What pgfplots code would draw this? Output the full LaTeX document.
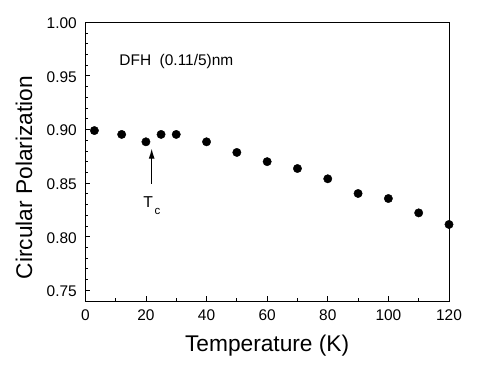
\documentclass[border=0pt]{standalone}
\usepackage{pgfplots}
\pgfplotsset{compat=1.18}
\usepackage{fontspec}
\setmainfont{Liberation Sans}
\usetikzlibrary{arrows.meta}
\begin{document}
\begin{tikzpicture}
\begin{axis}[
  scale only axis,
  width=363.7bp, height=278.7bp,
  xmin=0, xmax=120, ymin=0.74, ymax=1.00,
  xtick={0,20,...,120},
  minor x tick num=1,
  ytick={0.75,0.80,...,1.00},
  minor y tick num=4,
  tick align=inside,
  xtick pos=bottom, ytick pos=left,
  major tick length=5bp, minor tick length=3bp,
  axis line style={line width=0.8bp},
  every tick/.style={black, line width=0.8bp},
  /pgf/number format/assume math mode=true,
  /pgf/number format/.cd, fixed, precision=2,
  /pgfplots/.cd,
  yticklabel style={/pgf/number format/fixed zerofill, /pgf/number format/precision=2, yshift=-1bp, xshift=-5bp},
  xticklabel style={yshift=-5bp},
  ticklabel style={font=\fontsize{15.5}{18}\selectfont},
  xlabel={Temperature (K)},
  ylabel={Circular Polarization},
  label style={font=\fontsize{22.8}{26}\selectfont},
  xlabel style={at={(axis description cs:0.5,-0.182)}, anchor=base},
  ylabel style={at={(axis description cs:-0.1686,0.443)}, anchor=center, rotate=0},
  clip=false,
]
\addplot[only marks, mark=*, mark size=4.2bp, black] coordinates {
(3,0.899) (12,0.8954) (20,0.8885) (25,0.8954) (30,0.8954) (40,0.8885)
(50,0.8786) (60,0.870) (70,0.8636) (80,0.854) (90,0.8403) (100,0.8356)
(110,0.8222) (120,0.8114)
};
\draw[line width=1.3bp, -{Latex[length=10.5bp,width=6bp]}] (axis cs:21.9,0.8495) -- (axis cs:21.9,0.8825);
\node[anchor=base west, inner sep=0pt, font=\fontsize{15.8}{18}\selectfont] at (axis cs:19.1,0.8272) {T\kern1.5bp\raisebox{-7bp}{\fontsize{11.5}{13}\selectfont c}};
\node[anchor=base west, inner sep=0pt, font=\fontsize{15.5}{18}\selectfont] at (axis cs:11.2,0.9595) {DFH\ \ (0.11/5)nm};
\end{axis}
\path (current axis.south west) ++(-85.3bp,-69bp) rectangle ++(478bp,370bp);
\end{tikzpicture}
\end{document}
